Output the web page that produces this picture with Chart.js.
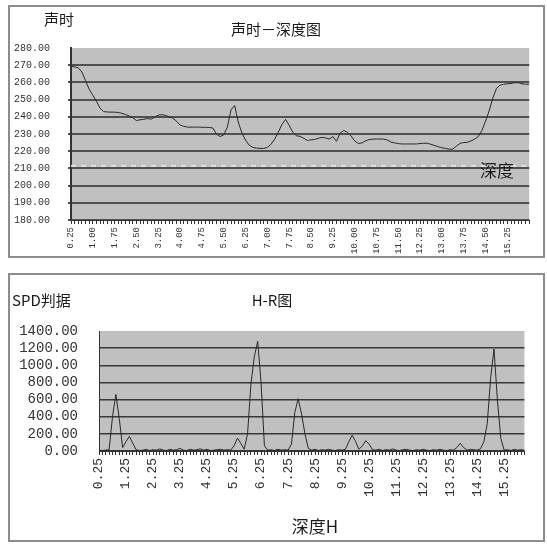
<!DOCTYPE html>
<html>
<head>
<meta charset="utf-8">
<script src="https://cdn.jsdelivr.net/npm/chart.js@4.4.0/dist/chart.umd.min.js"></script>
<style>
  body { margin: 0; background: #fff; width: 547px; height: 544px; position: relative; overflow: hidden; }
  .box { position: absolute; border: 2px solid #8c8c8c; background: #fff; }
  #box1 { left: 8px; top: 5px; width: 533px; height: 249px; }
  #box2 { left: 8px; top: 273px; width: 533px; height: 265px; }
  canvas { display: block; }
</style>
</head>
<body>
<div class="box" id="box1"><canvas id="timeChart" width="533" height="249"></canvas></div>
<div class="box" id="box2"><canvas id="hrChart" width="533" height="265"></canvas></div>
<script>
// depth (m), step 0.125 from 0.25 to 16.00
const depths = [
  0.25, 0.375, 0.5, 0.625, 0.75, 0.875, 1.0, 1.125, 1.25, 1.375, 1.5, 1.625, 1.75, 1.875, 2.0, 2.125,
  2.25, 2.375, 2.5, 2.625, 2.75, 2.875, 3.0, 3.125, 3.25, 3.375, 3.5, 3.625, 3.75, 3.875, 4.0, 4.125,
  4.25, 4.375, 4.5, 4.625, 4.75, 4.875, 5.0, 5.125, 5.25, 5.375, 5.5, 5.625, 5.75, 5.875, 6.0, 6.125,
  6.25, 6.375, 6.5, 6.625, 6.75, 6.875, 7.0, 7.125, 7.25, 7.375, 7.5, 7.625, 7.75, 7.875, 8.0, 8.125,
  8.25, 8.375, 8.5, 8.625, 8.75, 8.875, 9.0, 9.125, 9.25, 9.375, 9.5, 9.625, 9.75, 9.875, 10.0, 10.125,
  10.25, 10.375, 10.5, 10.625, 10.75, 10.875, 11.0, 11.125, 11.25, 11.375, 11.5, 11.625, 11.75, 11.875, 12.0, 12.125,
  12.25, 12.375, 12.5, 12.625, 12.75, 12.875, 13.0, 13.125, 13.25, 13.375, 13.5, 13.625, 13.75, 13.875, 14.0, 14.125,
  14.25, 14.375, 14.5, 14.625, 14.75, 14.875, 15.0, 15.125, 15.25, 15.375, 15.5, 15.625, 15.75, 15.875, 16.0
];

// 声时 (sound time)
const soundTime = [
  269.5, 269, 268.5, 266, 261, 256, 252.5, 249, 245, 243, 242.8, 242.7, 242.7, 242.5, 242, 241.3,
  240.5, 239.5, 237.8, 238.3, 238.5, 239, 238.6, 239.8, 241, 241.2, 240.8, 240, 239.2, 237.5, 235.2, 234.5,
  234, 234, 234, 234, 233.9, 233.9, 233.8, 233.5, 230, 228.5, 229.5, 234, 244, 246.5, 237, 230.5,
  226.5, 223.5, 222.2, 221.8, 221.6, 221.6, 222.2, 224, 227, 231, 235.5, 238.5, 235, 231, 229, 228.6,
  227.5, 226.2, 226.6, 226.8, 227.5, 228, 227.8, 227, 228.5, 225.8, 230.5, 232, 231, 229, 226, 224.5,
  224.8, 226, 226.8, 227, 227.1, 227.1, 227, 226.5, 225.3, 224.8, 224.4, 224.2, 224.2, 224.2, 224.2, 224.2,
  224.5, 224.6, 224.6, 224, 223.3, 222.6, 222, 221.6, 221.2, 221.2, 223, 224.6, 225, 225.2, 226, 227,
  228.5, 232, 237.5, 243.5, 251, 256.5, 258.4, 258.9, 259.2, 259.4, 259.8, 259.8, 259.2, 258.9, 259
];

// SPD判据
const spdValues = [
  10, 5, 10, 15, 400, 660, 380, 40, 110, 170, 90, 15, 5, 10, 20, 5,
  15, 10, 25, 10, 5, 20, 10, 15, 30, 10, 5, 20, 10, 15, 25, 10,
  20, 5, 10, 15, 20, 10, 15, 10, 60, 150, 90, 20, 200, 780, 1100, 1280,
  800, 60, 10, 15, 5, 20, 10, 15, 10, 80, 450, 610, 430, 200, 30, 10,
  20, 5, 15, 10, 20, 10, 5, 15, 10, 20, 110, 185, 110, 20, 60, 120,
  80, 15, 10, 20, 5, 15, 10, 25, 10, 5, 15, 20, 10, 5, 15, 10,
  20, 10, 5, 15, 10, 20, 10, 5, 15, 10, 40, 90, 40, 10, 20, 15,
  10, 25, 110, 320, 850, 1190, 600, 150, 10, 15, 5, 20, 10, 15, 10
];

const timeTicks = [180, 280, 10];   // min, max, step
const spdTicks = [0, 1400, 200];
const depthMarker = 211.5;          // dashed 深度 line on the top chart
const lastLabel = '15.25';          // last depth label printed on both axes

const labels = depths.map(d => d.toFixed(2));
const lastIdx = labels.indexOf(lastLabel);
const numFont = { family: 'Liberation Mono', size: 10 };
const bigNumFont = { family: 'Liberation Mono', size: 14 };

// grey plot background
const plotBg = {
  id: 'plotBg',
  beforeDraw(chart) {
    const { ctx, chartArea: { left, top, width, height } } = chart;
    ctx.save();
    ctx.fillStyle = '#c0c0c0';
    ctx.fillRect(left, top, width, height);
    ctx.restore();
  }
};

// free texts drawn at fixed spots
const texts = {
  id: 'texts',
  afterDraw(chart, args, opts) {
    const { ctx } = chart;
    ctx.save();
    ctx.fillStyle = '#1a1a1a';
    ctx.textBaseline = 'middle';
    (opts.items || []).forEach(t => {
      ctx.font = t.font;
      ctx.textAlign = t.align || 'left';
      ctx.fillText(t.text, t.x, t.y);
    });
    ctx.restore();
  }
};

// dashed marker line across top plot
const markerLine = {
  id: 'markerLine',
  beforeDatasetsDraw(chart) {
    const { ctx, chartArea: { left, right }, scales: { y } } = chart;
    const py = y.getPixelForValue(depthMarker);
    ctx.save();
    ctx.strokeStyle = '#e2e2e2';
    ctx.lineWidth = 2;
    ctx.setLineDash([5, 5]);
    ctx.beginPath();
    ctx.moveTo(left, py);
    ctx.lineTo(right, py);
    ctx.stroke();
    ctx.restore();
  }
};

const cjk = '"Noto Sans CJK SC", sans-serif';

new Chart(document.getElementById('timeChart'), {
  type: 'line',
  data: {
    labels: labels,
    datasets: [{
      data: soundTime,
      borderColor: '#2a2a2a',
      borderWidth: 1,
      pointRadius: 0,
      tension: 0
    }]
  },
  options: {
    responsive: false,
    animation: false,
    layout: { padding: { top: 41, right: 11, left: 0, bottom: 0 } },
    plugins: {
      legend: { display: false },
      tooltip: { enabled: false },
      texts: {
        items: [
          { text: '声时', x: 34, y: 12, font: '15px ' + cjk },
          { text: '声时－深度图', x: 266, y: 22, font: '15px ' + cjk, align: 'center' },
          { text: '深度', x: 487, y: 164, font: '17px ' + cjk, align: 'center' }
        ]
      }
    },
    scales: {
      x: {
        afterFit(scale) { scale.height = 36; },
        grid: { drawOnChartArea: false, drawTicks: true, tickLength: 4, color: '#333' },
        border: { display: true, color: '#333', width: 1 },
        ticks: {
          autoSkip: false, maxRotation: 90, minRotation: 90, padding: 3,
          color: '#333', font: { family: 'Liberation Mono', size: 9 },
          callback: (v, i) => (i % 6 === 0 && i <= lastIdx ? labels[i] : '')
        }
      },
      y: {
        min: timeTicks[0], max: timeTicks[1],
        afterFit(scale) { scale.width = 61; },
        grid: {
          color: ctx => (ctx.tick && ctx.tick.value === timeTicks[1] ? 'rgba(0,0,0,0)' : '#505050'),
          lineWidth: 2, drawTicks: true, tickLength: 3
        },
        border: { display: true, color: '#333', width: 2 },
        ticks: {
          autoSkip: false, stepSize: timeTicks[2], padding: 18, color: '#333', font: numFont,
          callback: v => v.toFixed(2)
        }
      }
    }
  },
  plugins: [plotBg, markerLine, texts]
});

new Chart(document.getElementById('hrChart'), {
  type: 'line',
  data: {
    labels: labels,
    datasets: [{
      data: spdValues,
      borderColor: '#2a2a2a',
      borderWidth: 1,
      pointRadius: 0,
      tension: 0
    }]
  },
  options: {
    responsive: false,
    animation: false,
    layout: { padding: { top: 56, right: 11, left: 0, bottom: 0 } },
    plugins: {
      legend: { display: false },
      tooltip: { enabled: false },
      texts: {
        items: [
          { text: 'SPD判据', x: 2, y: 25, font: '15px ' + cjk },
          { text: 'H-R图', x: 262, y: 25, font: '15px ' + cjk, align: 'center' },
          { text: '深度H', x: 305, y: 252, font: '17px ' + cjk, align: 'center' }
        ]
      }
    },
    scales: {
      x: {
        afterFit(scale) { scale.height = 89; },
        grid: { drawOnChartArea: false, drawTicks: true, tickLength: 4, color: '#333' },
        border: { display: true, color: '#333', width: 1 },
        ticks: {
          autoSkip: false, maxRotation: 90, minRotation: 90, padding: 3,
          color: '#333', font: { family: 'Liberation Mono', size: 13 },
          callback: (v, i) => (i % 8 === 0 && i <= lastIdx ? labels[i] : '')
        }
      },
      y: {
        min: spdTicks[0], max: spdTicks[1],
        afterFit(scale) { scale.width = 89; },
        grid: {
          color: ctx => (ctx.tick && ctx.tick.value === spdTicks[1] ? 'rgba(0,0,0,0)' : '#383838'),
          lineWidth: 1.5, drawTicks: false
        },
        border: { display: true, color: '#333', width: 1 },
        ticks: {
          autoSkip: false, stepSize: spdTicks[2], padding: 21, color: '#333', font: bigNumFont,
          callback: v => v.toFixed(2)
        }
      }
    }
  },
  plugins: [plotBg, texts]
});
</script>
</body>
</html>
